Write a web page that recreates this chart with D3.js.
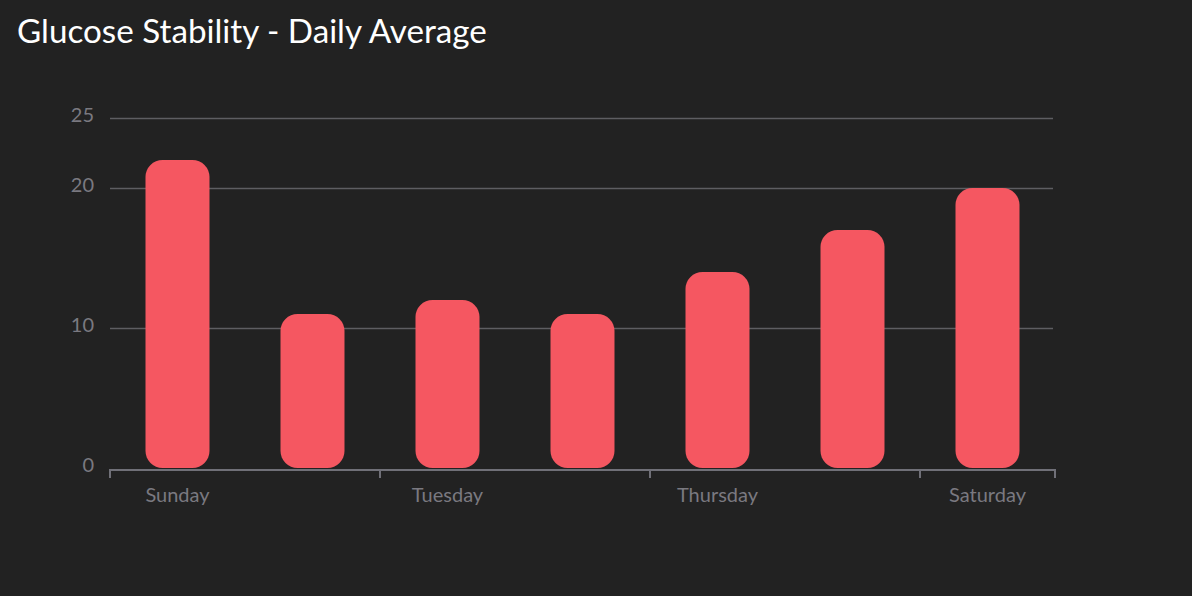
<!DOCTYPE html>
<html>
<head>
<meta charset="utf-8">
<script src="https://cdn.jsdelivr.net/npm/d3@7"></script>
<style>
  html, body { margin: 0; padding: 0; background: #222222; }
  svg { display: block; }
</style>
</head>
<body>
<svg id="chart" width="1192" height="596"></svg>
<script>
const days = ["Sunday", "Monday", "Tuesday", "Wednesday", "Thursday", "Friday", "Saturday"];
const values = [22, 11, 12, 11, 14, 17, 20];
const yTicks = [0, 10, 20, 25];
const xTickLabels = ["Sunday", "Tuesday", "Thursday", "Saturday"];
const title = "Glucose Stability - Daily Average";

const svg = d3.select("#chart");
const W = 1192, H = 596;
svg.append("rect").attr("width", W).attr("height", H).attr("fill", "#222222");

const x = d3.scaleBand().domain(days).range([110, 1055]).padding(0);
const y = d3.scaleLinear().domain([0, 25]).range([468, 118]);

const font = "Lato, 'Open Sans', sans-serif";

// title
const t = svg.append("text")
  .attr("x", 17).attr("y", 43)
  .attr("fill", "#ffffff")
  .attr("font-family", font)
  .attr("font-weight", 400)
  .attr("font-size", 30)
  .text(title);
const tl = t.node().getComputedTextLength();
t.attr("font-size", 30 * 470 / tl);

// gridlines
svg.append("g").selectAll("line")
  .data(yTicks.filter(d => d > 0))
  .join("line")
  .attr("x1", 110).attr("x2", 1053)
  .attr("y1", d => Math.round(y(d)) + 0.5).attr("y2", d => Math.round(y(d)) + 0.5)
  .attr("stroke", "#5e5e62").attr("stroke-width", 1.5);

// y labels
svg.append("g").selectAll("text")
  .data(yTicks)
  .join("text")
  .attr("x", 94).attr("y", d => y(d) - 1)
  .attr("text-anchor", "end")
  .attr("dominant-baseline", "middle")
  .attr("fill", "#7a7980")
  .attr("font-family", font)
  .attr("font-size", 20)
  .text(d => d);

// bars
const bw = x.bandwidth() * 0.474;
svg.append("g").selectAll("rect")
  .data(values)
  .join("rect")
  .attr("x", (d, i) => x(days[i]) + x.bandwidth() / 2 - bw / 2)
  .attr("y", d => y(d))
  .attr("width", bw)
  .attr("height", d => y(0) - y(d))
  .attr("rx", 17).attr("ry", 17)
  .attr("fill", "#f55761");

// x axis line
svg.append("line")
  .attr("x1", 110).attr("x2", 1055)
  .attr("y1", 470).attr("y2", 470)
  .attr("stroke", "#707078").attr("stroke-width", 2);

// x tick marks
const tickPos = xTickLabels.map(d => x(d)).concat([x.range()[1]]);
svg.append("g").selectAll("line")
  .data(tickPos)
  .join("line")
  .attr("x1", d => d).attr("x2", d => d)
  .attr("y1", 469).attr("y2", 478)
  .attr("stroke", "#707078").attr("stroke-width", 2);

// x labels
svg.append("g").selectAll("text")
  .data(xTickLabels)
  .join("text")
  .attr("x", d => x(d) + x.bandwidth() / 2)
  .attr("y", 502)
  .attr("text-anchor", "middle")
  .attr("fill", "#7a7980")
  .attr("font-family", font)
  .attr("font-size", 20)
  .text(d => d);
</script>
</body>
</html>
